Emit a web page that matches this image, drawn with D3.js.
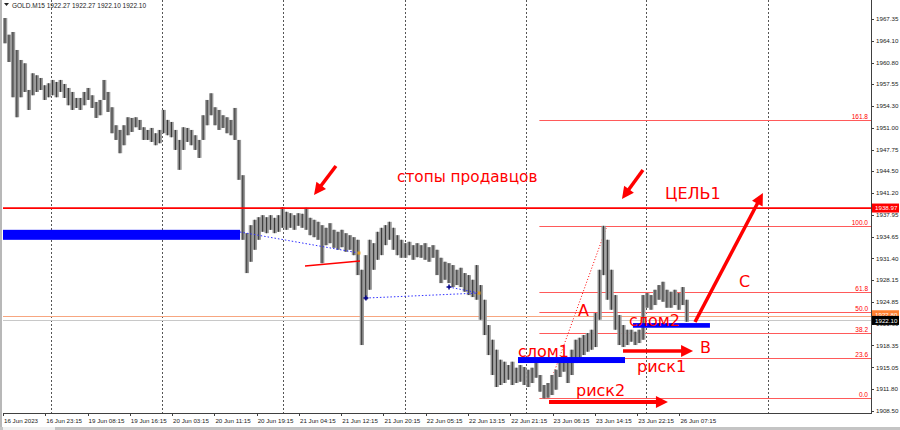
<!DOCTYPE html>
<html><head><meta charset="utf-8">
<script src="https://cdn.jsdelivr.net/npm/d3@7"></script>
<style>body{margin:0;background:#fff}svg{display:block}</style>
</head><body><svg id="c" width="900" height="430"></svg>
<script>
// ---------------- DATA ----------------
const symbol = "GOLD.M15";
const headerQuote = ["1922.27", "1922.27", "1922.10", "1922.10"];
const priceTicks = ["1967.35","1964.10","1960.80","1957.55","1954.30","1951.00","1947.75","1944.50","1941.20","1937.95","1934.65","1931.40","1928.15","1924.85","1921.60","1918.35","1915.05","1911.80","1908.50"];
const timeLabels = ["16 Jun 2023","16 Jun 23:15","19 Jun 08:15","19 Jun 16:15","20 Jun 03:15","20 Jun 11:15","20 Jun 19:15","21 Jun 04:15","21 Jun 12:15","21 Jun 20:15","22 Jun 05:15","22 Jun 13:15","22 Jun 21:15","23 Jun 06:15","23 Jun 14:15","23 Jun 22:15","26 Jun 07:15"];
const timeLabelStep = 32;           // bars between time labels
const daySeparators = [36, 120, 212, 304, 396, 487, 579]; // bar index of day starts
const barsPerColumn = 3;
const colHigh = [1967.5,1965.0,1965.4,1962.7,1961.2,1960.7,1956.7,1959.2,1958.9,1958.5,1957.4,1957.7,1958.2,1957.9,1958.2,1957.6,1957.0,1956.4,1955.5,1955.5,
1956.4,1957.0,1955.9,1954.9,1955.2,1958.2,1956.4,1954.1,1951.4,1950.7,1951.4,1952.6,1952.5,1952.6,1952.2,1951.1,1950.7,1951.0,1950.2,1950.7,
1953.7,1952.2,1951.9,1950.7,1949.2,1951.1,1951.0,1950.7,1949.9,1949.2,1952.9,1955.2,1956.2,1954.1,1953.7,1952.9,1952.6,1952.2,1954.0,1949.2,
1943.9,1935.2,1936.4,1937.2,1937.6,1937.9,1937.6,1937.9,1937.5,1937.9,1939.1,1938.4,1938.2,1937.9,1938.2,1938.1,1939.0,1937.5,1937.2,1936.9,
1936.4,1936.0,1936.7,1935.7,1935.4,1935.7,1935.2,1934.9,1934.6,1934.2,1929.7,1931.9,1934.2,1933.7,1935.4,1936.0,1936.4,1936.9,1936.0,1934.9,
1934.2,1933.7,1933.9,1933.4,1933.7,1933.4,1933.7,1933.1,1933.4,1932.7,1931.5,1930.9,1930.7,1930.4,1929.7,1930.0,1929.2,1928.9,1928.2,1930.4,
1927.4,1925.2,1921.4,1919.2,1917.7,1916.2,1915.9,1915.4,1915.9,1915.0,1915.4,1915.1,1914.7,1915.0,1915.7,1913.9,1912.4,1912.7,1913.9,1914.7,
1916.5,1916.6,1916.2,1917.7,1919.2,1919.5,1919.9,1920.2,1920.7,1923.2,1929.7,1936.3,1934.2,1929.7,1925.9,1922.9,1921.4,1920.7,1920.7,1920.4,
1920.7,1925.9,1926.2,1925.9,1926.7,1927.4,1927.9,1926.7,1926.4,1926.7,1926.2,1927.1,1925.2];
const colLow = [1963.7,1960.9,1955.6,1952.6,1955.6,1956.4,1953.7,1955.9,1956.4,1956.7,1955.2,1955.6,1955.9,1955.6,1956.4,1955.5,1954.4,1953.7,1954.0,1953.7,
1954.4,1955.2,1954.0,1952.5,1952.9,1955.2,1953.4,1950.2,1949.2,1947.2,1948.4,1949.9,1950.4,1951.1,1950.7,1949.2,1949.2,1948.9,1948.4,1948.7,
1950.2,1949.9,1949.6,1947.7,1944.7,1947.7,1948.9,1948.4,1947.7,1946.5,1949.2,1951.4,1952.9,1951.4,1950.7,1951.0,1950.2,1949.9,1949.2,1943.2,
1934.2,1929.2,1930.9,1932.7,1934.2,1935.4,1935.2,1935.7,1935.2,1935.4,1936.0,1935.7,1936.0,1935.7,1936.3,1936.0,1935.7,1934.9,1934.6,1934.2,
1930.7,1933.4,1933.7,1933.0,1932.7,1933.1,1932.4,1932.7,1931.9,1928.9,1918.4,1925.2,1926.7,1929.7,1931.2,1931.9,1933.4,1934.2,1932.7,1931.9,
1931.5,1931.5,1931.9,1931.2,1931.6,1931.5,1931.2,1930.9,1931.5,1928.9,1927.7,1928.2,1927.7,1927.1,1927.4,1927.1,1926.4,1925.9,1925.6,1925.2,
1922.2,1919.9,1916.9,1913.9,1912.1,1912.4,1912.7,1913.2,1912.4,1912.7,1912.9,1912.4,1912.1,1912.7,1913.5,1911.4,1910.4,1910.5,1910.9,1911.7,
1913.6,1914.4,1912.7,1913.9,1915.7,1916.5,1916.9,1917.4,1917.7,1918.1,1922.2,1928.9,1925.2,1923.7,1920.7,1918.4,1918.1,1918.4,1918.9,1918.4,
1918.7,1919.2,1924.0,1923.7,1924.4,1925.2,1924.9,1924.0,1924.0,1924.4,1923.7,1924.4,1921.9];
const resistanceLevel = 1938.97;
const askLevel = 1922.80;
const bidLevel = 1922.10;
const fibStart = {i: 410, p: 1910.4};
const fibEnd = {i: 457, p: 1936.2};
const fibLineStart = 406;
const fibLevels = [0, 23.6, 38.2, 50, 61.8, 100, 161.8];
const fibLabels = ["0.0","23.6","38.2","50.0","61.8","100.0","161.8"];
// annotation zones (bar index range, price range)
const zones = [
  {i0: 0, i1: 179.4, p0: 1934.2, p1: 1935.7},
  {i0: 389.8, i1: 470.8, p0: 1915.7, p1: 1916.6},
  {i0: 476.8, i1: 535.1, p0: 1921.0, p1: 1921.7}
];
const blueDotted = [
  [{i:179.4,p:1935.37},{i:269.4,p:1932.22}],
  [{i:274.7,p:1925.46},{i:360.3,p:1926.21}],
  [{i:337.6,p:1927.11},{i:360.3,p:1926.21}]
];
const blueCrosses = [{i:274.7,p:1925.46},{i:337.6,p:1927.11}];
const orangeDots = [{i:269.4,p:1932.22},{i:360.3,p:1926.21}];
const redSegment = [{i:228.6,p:1930.27},{i:270.2,p:1931.02}];
const arrows = [
  {from:{i:252.0,p:1945.28}, to:{i:235.4,p:1940.92}, w:3.5},
  {from:{i:484.4,p:1944.68}, to:{i:468.5,p:1940.33}, w:3.5},
  {from:{i:469.3,p:1917.5}, to:{i:522.3,p:1917.5}, w:3.5},
  {from:{i:413.3,p:1909.85}, to:{i:503.3,p:1909.85}, w:4},
  {from:{i:523.8,p:1921.86}, to:{i:575.2,p:1941.23}, w:3.5}
];
const notes = [
  {t:"стопы продавцов", i:298.2, p:1942.88, s:15.3},
  {t:"ЦЕЛЬ1", i:501.1, p:1940.32, s:16},
  {t:"A", i:435.2, p:1922.76, s:16},
  {t:"B", i:527.6, p:1917.2, s:16},
  {t:"C", i:557.1, p:1927.11, s:16},
  {t:"слом1", i:389.8, p:1916.6, s:16},
  {t:"слом2", i:473.8, p:1921.26, s:16},
  {t:"риск1", i:479.9, p:1914.35, s:16},
  {t:"риск2", i:433.7, p:1910.75, s:16}
];

// ---------------- SCALES ----------------
const svg = d3.select("#c");
const X0 = 3, X1 = 871, AXY = 413;
const x = d3.scaleLinear().domain([0, 657]).range([X0, X1]);
const y = d3.scaleLinear().domain([1908.5, 1967.35]).range([411, 19]);
const RED = "#ff0000", FIB = "#ff5a5a";
const small = "'Liberation Sans', Arial, sans-serif";

// left border
svg.append("rect").attr("x",0).attr("y",0).attr("width",2).attr("height",427).attr("fill","#b8b8b8");

// day separators
svg.append("g").selectAll("line").data(daySeparators).join("line")
  .attr("x1", d => Math.round(x(d)) + 0.5).attr("x2", d => Math.round(x(d)) + 0.5)
  .attr("y1", 0).attr("y2", AXY).attr("stroke", "#555").attr("stroke-width", 1).attr("stroke-dasharray", "2,2");

// fib levels
const fy = lv => y(fibStart.p + (fibEnd.p - fibStart.p) * lv / 100);
const gf = svg.append("g");
gf.selectAll("line").data(fibLevels).join("line")
  .attr("x1", x(fibLineStart)).attr("x2", X1).attr("y1", d => Math.round(fy(d)) + 0.5).attr("y2", d => Math.round(fy(d)) + 0.5)
  .attr("stroke", FIB).attr("stroke-width", 1);
gf.selectAll("text").data(fibLevels).join("text")
  .attr("x", X1 - 3).attr("y", d => Math.round(fy(d)) - 1.5).attr("text-anchor","end")
  .attr("font-family", small).attr("font-size", 6.5).attr("fill", RED).text((d,i) => fibLabels[i]);
svg.append("line").attr("x1", x(fibStart.i)).attr("y1", y(fibStart.p)).attr("x2", x(fibEnd.i)).attr("y2", y(fibEnd.p))
  .attr("stroke", RED).attr("stroke-width", 1).attr("stroke-dasharray", "1,2");

// ask / bid lines
svg.append("line").attr("x1",X0).attr("x2",X1).attr("y1",Math.round(y(askLevel))+0.5).attr("y2",Math.round(y(askLevel))+0.5).attr("stroke","#f7a680").attr("stroke-width",1.2);
svg.append("line").attr("x1",X0).attr("x2",X1).attr("y1",Math.round(y(bidLevel))+0.5).attr("y2",Math.round(y(bidLevel))+0.5).attr("stroke","#c8c8c8").attr("stroke-width",1);

// price columns
const cols = colHigh.map((h, k) => ({k, h, l: colLow[k]}));
const cw = x(barsPerColumn) - x(0);
svg.append("g").selectAll("rect").data(cols).join("rect")
  .attr("x", d => x(d.k * barsPerColumn)).attr("width", cw + 0.3)
  .attr("y", d => y(d.h)).attr("height", d => Math.max(1, y(d.l) - y(d.h)))
  .attr("fill", "#9a9a9a");
svg.append("g").selectAll("line").data(cols).join("line")
  .attr("x1", d => x(d.k * barsPerColumn) + cw * 0.5).attr("x2", d => x(d.k * barsPerColumn) + cw * 0.5)
  .attr("y1", d => y(d.h)).attr("y2", d => y(d.l)).attr("stroke", "#3a3a3a").attr("stroke-width", 1.1);

// resistance line
svg.append("line").attr("x1",X0).attr("x2",X1).attr("y1",y(resistanceLevel)).attr("y2",y(resistanceLevel)).attr("stroke",RED).attr("stroke-width",1.8);

// zones
svg.append("g").selectAll("rect").data(zones).join("rect")
  .attr("x", d => x(d.i0)).attr("width", d => x(d.i1) - x(d.i0))
  .attr("y", d => y(d.p1)).attr("height", d => y(d.p0) - y(d.p1)).attr("fill", "#0000ff");

// blue dotted
svg.append("g").selectAll("line").data(blueDotted).join("line")
  .attr("x1", d => x(d[0].i)).attr("y1", d => y(d[0].p)).attr("x2", d => x(d[1].i)).attr("y2", d => y(d[1].p))
  .attr("stroke", "#3030ff").attr("stroke-width", 1).attr("stroke-dasharray", "1.5,2");
svg.append("g").selectAll("path").data(blueCrosses).join("path")
  .attr("d", d => `M${x(d.i)-2.5},${y(d.p)}h5M${x(d.i)},${y(d.p)-2.5}v5`).attr("stroke","#00008b").attr("stroke-width",1.5);
svg.append("g").selectAll("rect").data(orangeDots).join("rect")
  .attr("x", d => x(d.i)-1.5).attr("y", d => y(d.p)-1.5).attr("width",3).attr("height",3).attr("fill","#e0a020");
svg.append("line").attr("x1",x(redSegment[0].i)).attr("y1",y(redSegment[0].p)).attr("x2",x(redSegment[1].i)).attr("y2",y(redSegment[1].p)).attr("stroke",RED).attr("stroke-width",1.6);

// arrows
const ga = svg.append("g");
arrows.forEach(a => {
  const x1 = x(a.from.i), y1 = y(a.from.p), x2 = x(a.to.i), y2 = y(a.to.p);
  const dx = x2 - x1, dy = y2 - y1, L = Math.hypot(dx, dy), ux = dx / L, uy = dy / L;
  const hl = 12, hw = 6;
  const bx = x2 - ux * hl, by = y2 - uy * hl;
  ga.append("line").attr("x1", x1).attr("y1", y1).attr("x2", bx + ux).attr("y2", by + uy).attr("stroke", RED).attr("stroke-width", a.w);
  ga.append("path").attr("d", `M${x2},${y2}L${bx - uy * hw},${by + ux * hw}L${bx + uy * hw},${by - ux * hw}Z`).attr("fill", RED);
});

// notes
svg.append("g").selectAll("text").data(notes).join("text")
  .attr("x", d => x(d.i)).attr("y", d => y(d.p)).attr("font-family", "'DejaVu Sans', sans-serif")
  .attr("font-size", d => d.s).attr("fill", RED).text(d => d.t);

// right axis
svg.append("line").attr("x1",X1+0.5).attr("x2",X1+0.5).attr("y1",0).attr("y2",AXY).attr("stroke","#404040");
const gy = svg.append("g");
gy.selectAll("line").data(priceTicks).join("line")
  .attr("x1", X1).attr("x2", X1 + 3).attr("y1", d => Math.round(y(+d)) + 0.5).attr("y2", d => Math.round(y(+d)) + 0.5).attr("stroke", "#404040");
gy.selectAll("text").data(priceTicks).join("text")
  .attr("x", X1 + 5).attr("y", d => y(+d) + 2.2).attr("font-family", small).attr("font-size", 6.2).attr("fill", "#222").text(d => d);

// price boxes (ask box sits behind the bid box, as in the terminal)
const boxes = [
  {v: resistanceLevel, fill: RED, txt: "#fff", dy: 0},
  {v: askLevel, fill: "#ff8030", txt: "#fff", dy: -1},
  {v: bidLevel, fill: "#000", txt: "#fff", dy: 0}
];
boxes.forEach(b => {
  svg.append("rect").attr("x", X1 + 1).attr("y", y(b.v) - 4.5 + b.dy).attr("width", 27).attr("height", 9).attr("fill", b.fill);
  svg.append("text").attr("x", X1 + 4).attr("y", y(b.v) + 2.3 + b.dy).attr("font-family", small).attr("font-size", 6.2).attr("fill", b.txt).text(b.v.toFixed(2));
});

// bottom axis
svg.append("line").attr("x1",X0).attr("x2",X1+1).attr("y1",AXY+0.5).attr("y2",AXY+0.5).attr("stroke","#404040");
const gx = svg.append("g");
gx.selectAll("line").data(timeLabels).join("line")
  .attr("x1", (d,i) => Math.round(x(i*timeLabelStep))+0.5).attr("x2", (d,i) => Math.round(x(i*timeLabelStep))+0.5)
  .attr("y1", AXY).attr("y2", AXY + 3).attr("stroke", "#404040");
gx.selectAll("text").data(timeLabels).join("text")
  .attr("x", (d,i) => x(i*timeLabelStep) + 1).attr("y", 423).attr("font-family", small).attr("font-size", 6.2).attr("fill", "#222").text(d => d);
svg.append("rect").attr("x",0).attr("y",427).attr("width",900).attr("height",3).attr("fill","#c4c4c4");
svg.append("rect").attr("x",3).attr("y",427).attr("width",52).attr("height",3).attr("fill","#f0f0f0");

// header
svg.append("path").attr("d","M4,3h5l-2.5,3z").attr("fill","#222");
svg.append("text").attr("x",12).attr("y",7.5).attr("font-family",small).attr("font-size",6.5).attr("fill","#222")
  .text(symbol + "  " + headerQuote.join(" "));
</script></body></html>
